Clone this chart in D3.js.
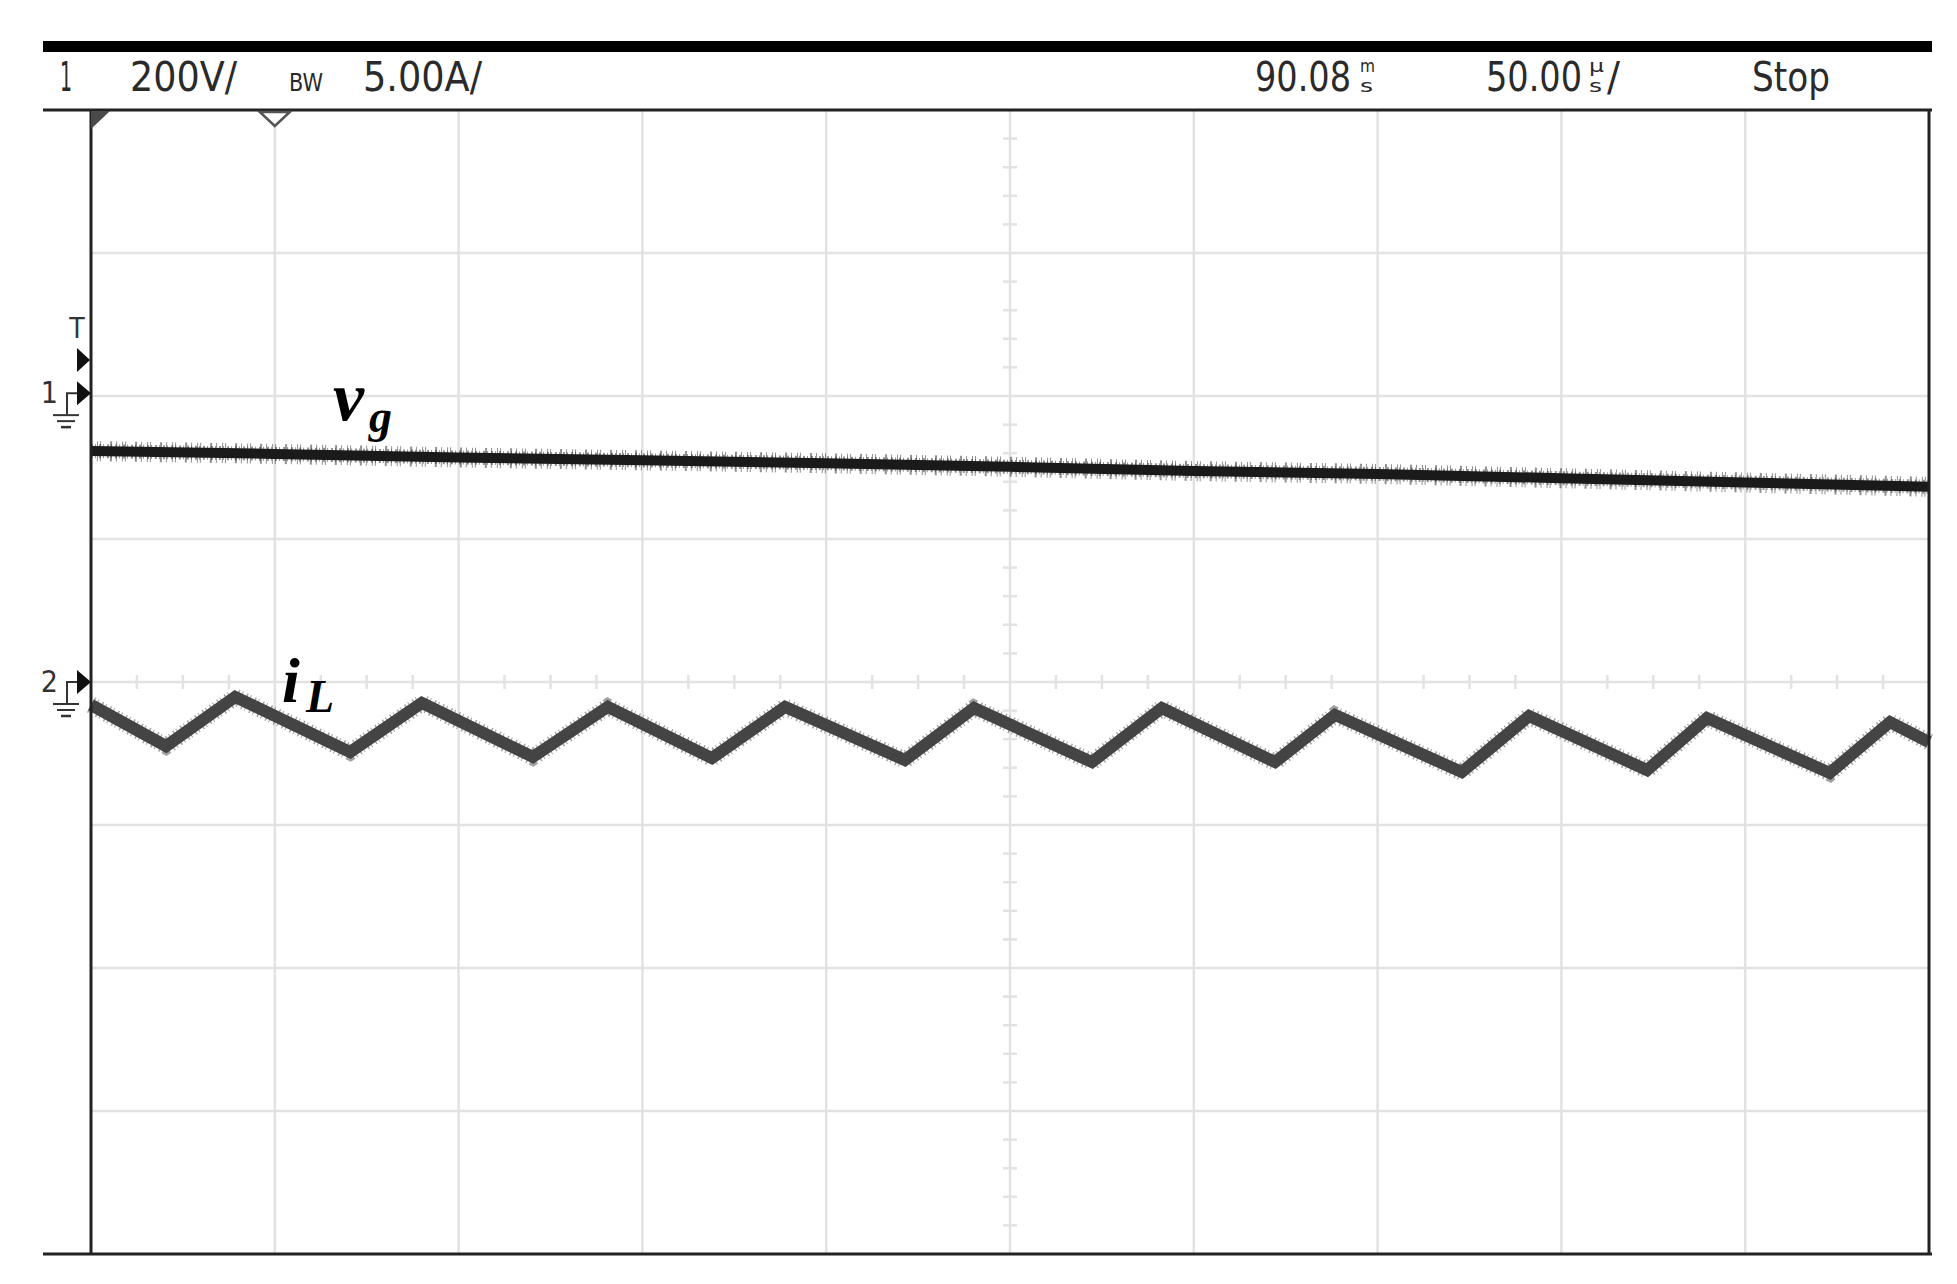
<!DOCTYPE html>
<html>
<head>
<meta charset="utf-8">
<script src="https://cdn.jsdelivr.net/npm/d3@7"></script>
<style>
  html, body { margin: 0; padding: 0; background: #fff; }
  svg { display: block; }
</style>
</head>
<body>
<script>
// ---------------- DATA ----------------
// time axis: 50 µs/div, 10 divisions
const timeDivsUs = [0, 50, 100, 150, 200, 250, 300, 350, 400, 450, 500];
// amplitude divisions: 8 divisions (-4..4)
const ampDivs = [-4, -3, -2, -1, 0, 1, 2, 3, 4];

// channel 1 : v_g  (200 V/div)
const vgTimeUs = [0, 50, 100, 150, 200, 250, 300, 350, 400, 450, 500];
const vgVolts  = [-81, -85, -90, -94, -98, -103, -109, -113, -119, -125, -131];

// channel 2 : i_L  (5 A/div), vertices of the ripple waveform
const iLTimeUs = [0, 20.4, 39.2, 70.5, 90.0, 120.2, 140.6, 168.9, 188.8, 221.4, 240.2,
                  272.3, 291.3, 322.1, 338.4, 372.9, 391.2, 423.3, 439.6, 473.0, 489.4, 500];
const iLAmps   = [-0.80, -2.24, -0.52, -2.45, -0.73, -2.62, -0.87, -2.66, -0.87, -2.73, -0.91,
                  -2.80, -0.91, -2.80, -1.15, -3.15, -1.19, -3.08, -1.26, -3.18, -1.40, -2.10];

// header texts
const headerLeft  = ["1", "200V/", "BW", "5.00A/"];
const headerRight = ["90.08", "50.00", "Stop"];
const headerUnits = [["m", "s"], ["\u00b5", "s"]];
const traceLabels = [["v", "g"], ["i", "L"]];

const ch1VoltsPerDiv = 200, ch2AmpsPerDiv = 5;
const ch1OffsetDiv = 2.02, ch2OffsetDiv = 0;

// ---------------- LAYOUT ----------------
const W = 1957, H = 1284;
const L = 91, R = 1929, T = 110, B = 1254;
const FX0 = 43, FX1 = 1932;

const svg = d3.select("body").append("svg").attr("width", W).attr("height", H);
svg.append("rect").attr("width", W).attr("height", H).attr("fill", "#fff");

const x = d3.scaleLinear().domain([0, 500]).range([L, R]);
const y = d3.scaleLinear().domain([-4, 4]).range([B, T]);

// ---------------- GRID ----------------
const grid = svg.append("g");
const gridColor = "#e2e2e2";
grid.selectAll("line.v").data(timeDivsUs.slice(1, -1)).join("line")
  .attr("x1", d => x(d)).attr("x2", d => x(d)).attr("y1", T).attr("y2", B)
  .attr("stroke", gridColor).attr("stroke-width", 2.5);
grid.selectAll("line.h").data(ampDivs.slice(1, -1)).join("line")
  .attr("x1", L).attr("x2", R).attr("y1", d => y(d)).attr("y2", d => y(d))
  .attr("stroke", gridColor).attr("stroke-width", 2.5);

// minor ticks along centre axes
const xMinor = d3.range(0, 500.01, 12.5).filter(d => d % 50 !== 0);
grid.selectAll("line.xm").data(xMinor).join("line")
  .attr("x1", d => x(d)).attr("x2", d => x(d)).attr("y1", y(0) - 7).attr("y2", y(0) + 7)
  .attr("stroke", gridColor).attr("stroke-width", 2.5);
const yMinor = d3.range(-4, 4.001, 0.2).filter(d => Math.abs(d - Math.round(d)) > 0.01);
grid.selectAll("line.ym").data(yMinor).join("line")
  .attr("x1", x(250) - 7).attr("x2", x(250) + 7).attr("y1", d => y(d)).attr("y2", d => y(d))
  .attr("stroke", gridColor).attr("stroke-width", 2.5);

// ---------------- TRACES ----------------
const line = d3.line().x(d => x(d[0])).y(d => d[1]);
const vgPts = vgTimeUs.map((t, i) => [t, y(ch1OffsetDiv + vgVolts[i] / ch1VoltsPerDiv)]);
const iLPts = iLTimeUs.map((t, i) => [t, y(ch2OffsetDiv + iLAmps[i] / ch2AmpsPerDiv)]);

const traces = svg.append("g");
// v_g : dark band with noise fringe
traces.append("path").attr("d", line(vgPts)).attr("fill", "none")
  .attr("stroke", "#333").attr("stroke-width", 20).attr("stroke-dasharray", "1 5 1 2 1 9 2 4")
  .attr("opacity", 0.55);
traces.append("path").attr("d", line(vgPts)).attr("fill", "none")
  .attr("stroke", "#444").attr("stroke-width", 14).attr("stroke-dasharray", "2 2 1 3")
  .attr("opacity", 0.6);
traces.append("path").attr("d", line(vgPts)).attr("fill", "none")
  .attr("stroke", "#1a1a1a").attr("stroke-width", 10).attr("stroke-linejoin", "round");

// i_L : grey triangular ripple
traces.append("path").attr("d", line(iLPts)).attr("fill", "none")
  .attr("stroke", "#555").attr("stroke-width", 17).attr("stroke-dasharray", "1.5 2.5 1 4")
  .attr("opacity", 0.55);
traces.append("path").attr("d", line(iLPts)).attr("fill", "none")
  .attr("stroke", "#444").attr("stroke-width", 12).attr("stroke-linejoin", "miter");

// ---------------- FRAME ----------------
const frame = svg.append("g");
frame.append("rect").attr("x", FX0).attr("y", 41).attr("width", FX1 - FX0).attr("height", 11).attr("fill", "#000");
frame.append("line").attr("x1", FX0).attr("x2", FX1).attr("y1", T).attr("y2", T)
  .attr("stroke", "#222").attr("stroke-width", 3);
frame.append("line").attr("x1", FX0).attr("x2", FX1).attr("y1", B).attr("y2", B)
  .attr("stroke", "#222").attr("stroke-width", 3);
frame.append("line").attr("x1", L).attr("x2", L).attr("y1", T).attr("y2", B)
  .attr("stroke", "#222").attr("stroke-width", 3);
frame.append("line").attr("x1", R).attr("x2", R).attr("y1", T).attr("y2", B)
  .attr("stroke", "#222").attr("stroke-width", 3);

// top markers
frame.append("path").attr("d", `M${L},${T + 1}L${L + 19},${T + 1}L${L},${T + 19}Z`).attr("fill", "#4a4a4a");
const tx = x(50);
frame.append("path").attr("d", `M${tx - 15},${T + 2}L${tx + 15},${T + 2}L${tx},${T + 16}Z`)
  .attr("fill", "#fff").attr("stroke", "#555").attr("stroke-width", 2.5);

// ---------------- HEADER ----------------
const hdrFont = "'Liberation Sans Narrow','DejaVu Sans Condensed','Liberation Sans',sans-serif";
const hdr = svg.append("g").attr("fill", "#2a2a2a").attr("font-family", hdrFont);
const baseY = 91;
const leftPos = [[60, 12, 40], [130, 107, 40], [289, 34, 25], [363, 119, 40]];
headerLeft.forEach((s, i) => {
  hdr.append("text").attr("x", leftPos[i][0]).attr("y", baseY)
    .attr("font-size", leftPos[i][2]).attr("textLength", leftPos[i][1])
    .attr("lengthAdjust", "spacingAndGlyphs").text(s);
});
const rightPos = [[1255, 96], [1486, 96], [1752, 78]];
headerRight.forEach((s, i) => {
  hdr.append("text").attr("x", rightPos[i][0]).attr("y", baseY)
    .attr("font-size", 40).attr("textLength", rightPos[i][1])
    .attr("lengthAdjust", "spacingAndGlyphs").text(s);
});
const unitX = [1360, 1589];
headerUnits.forEach((u, i) => {
  hdr.append("text").attr("x", unitX[i]).attr("y", 72).attr("font-size", 17)
    .attr("textLength", 15).attr("lengthAdjust", "spacingAndGlyphs").text(u[0]);
  hdr.append("text").attr("x", unitX[i]).attr("y", 92).attr("font-size", 17)
    .attr("textLength", 13).attr("lengthAdjust", "spacingAndGlyphs").text(u[1]);
});
hdr.append("text").attr("x", 1607).attr("y", baseY).attr("font-size", 40)
  .attr("textLength", 13).attr("lengthAdjust", "spacingAndGlyphs").text("/");

// ---------------- LEFT MARKERS ----------------
const mk = svg.append("g").attr("fill", "#111").attr("font-family", hdrFont);
// trigger
mk.append("text").attr("x", 77).attr("y", 338).attr("text-anchor", "middle").attr("font-size", 28)
  .attr("fill", "#333").text("T");
mk.append("path").attr("d", `M77,348L90,360L77,372Z`);
function groundMarker(label, gy) {
  const g = mk.append("g");
  g.append("text").attr("x", 58).attr("y", gy + 10).attr("text-anchor", "end")
    .attr("font-size", 30).attr("fill", "#333").text(label);
  g.append("path").attr("d", `M77,${gy - 12}L91,${gy}L77,${gy + 12}Z`);
  g.append("path").attr("d", `M77,${gy}H67V${gy + 21}`).attr("fill", "none").attr("stroke", "#333").attr("stroke-width", 2);
  g.append("line").attr("x1", 53).attr("x2", 79).attr("y1", gy + 22).attr("y2", gy + 22).attr("stroke", "#333").attr("stroke-width", 2);
  g.append("line").attr("x1", 57).attr("x2", 75).attr("y1", gy + 28).attr("y2", gy + 28).attr("stroke", "#333").attr("stroke-width", 2);
  g.append("line").attr("x1", 61).attr("x2", 71).attr("y1", gy + 34).attr("y2", gy + 34).attr("stroke", "#333").attr("stroke-width", 2.5);
}
groundMarker("1", y(ch1OffsetDiv));
groundMarker("2", y(ch2OffsetDiv));

// ---------------- TRACE LABELS ----------------
const lab = svg.append("g").attr("font-family", "'Liberation Serif','DejaVu Serif',serif")
  .attr("font-style", "italic").attr("font-weight", "bold").attr("fill", "#000");
const labPos = [[333, 420, 70, 369, 432, 46], [282, 702, 64, 306, 712, 46]];
traceLabels.forEach((t, i) => {
  const p = labPos[i];
  lab.append("text").attr("x", p[0]).attr("y", p[1]).attr("font-size", p[2]).text(t[0]);
  lab.append("text").attr("x", p[3]).attr("y", p[4]).attr("font-size", p[5]).text(t[1]);
});
</script>
</body>
</html>
